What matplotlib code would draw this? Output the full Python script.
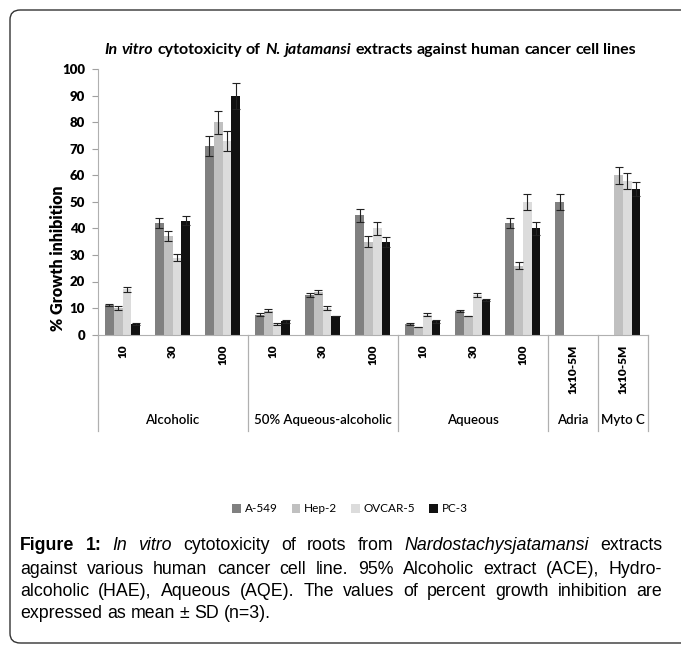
import numpy as np
import matplotlib as mpl
mpl.use("Agg")
import matplotlib.pyplot as plt
from matplotlib.patches import FancyBboxPatch
from matplotlib.transforms import blended_transform_factory

W, H = 681, 646

cell_lines = ["A-549", "Hep-2", "OVCAR-5", "PC-3"]
colors = ["#808080", "#c0c0c0", "#dcdcdc", "#111111"]
doses = ["10", "30", "100", "10", "30", "100", "10", "30", "100", "1x10-5M", "1x10-5M"]
groups = ["Alcoholic", "50% Aqueous-alcoholic", "Aqueous", "Adria", "Myto C"]
group_sizes = [3, 3, 3, 1, 1]

nan = np.nan
a549 = [11, 42, 71, 7.5, 15, 45, 4, 9, 42, 50, nan]
hep2 = [10, 37, 80, 9, 16, 35, 3, 7, 26, nan, 60]
ovcar5 = [17, 29, 73, 4, 10, 40, 7.5, 15, 50, nan, 58]
pc3 = [4, 43, 90, 5, 7, 35, 5, 13, 40, nan, 55]

a549_sd = [0.4, 1.8, 3.8, 0.5, 0.8, 2.4, 0.3, 0.4, 1.8, 2.9, nan]
hep2_sd = [0.6, 1.9, 4.3, 0.6, 0.8, 2.0, 0.0, 0.0, 1.2, nan, 3.1]
ovcar5_sd = [1.0, 1.2, 3.8, 0.4, 0.8, 2.3, 0.5, 0.7, 2.9, nan, 3.1]
pc3_sd = [0.3, 1.8, 4.8, 0.5, 0.0, 1.9, 0.5, 0.5, 2.4, nan, 2.6]

series = [a549, hep2, ovcar5, pc3]
errors = [a549_sd, hep2_sd, ovcar5_sd, pc3_sd]

title_font = "Lato"
cap_font = "Liberation Sans"

fig = plt.figure(figsize=(W / 100, H / 100), dpi=100)

# rounded frame around the whole figure (right edge runs off the image)
frame = FancyBboxPatch((10 / W, 1 - 643 / H), 700 / W, 633 / H,
                       boxstyle="round,pad=0,rounding_size=0.015",
                       transform=fig.transFigure, fill=False,
                       edgecolor="#333333", linewidth=1.0)
fig.patches.append(frame)

ax_l, ax_r, ax_t, ax_b = 97.5, 648, 69.5, 334.5
ax = fig.add_axes([ax_l / W, 1 - ax_b / H, (ax_r - ax_l) / W, (ax_b - ax_t) / H])

n = len(doses)
x = np.arange(n)
w = 0.175
for k, (vals, sds) in enumerate(zip(series, errors)):
    vals = np.array(vals, dtype=float)
    sds = np.array(sds, dtype=float)
    pos = x + (k - 1.5) * w
    m = ~np.isnan(vals)
    ax.bar(pos[m], vals[m], width=w, color=colors[k], label=cell_lines[k],
           edgecolor="none")
    ax.errorbar(pos[m], vals[m], yerr=sds[m], fmt="none", ecolor="#222222",
                elinewidth=0.8, capsize=3, capthick=0.8)

ax.set_xlim(-0.5, n - 0.5)
ax.set_ylim(0, 100)
ax.set_yticks(range(0, 101, 10))
ax.set_yticklabels([str(v) for v in range(0, 101, 10)], fontfamily=title_font,
                   fontweight="heavy", fontsize=9.5)
ax.tick_params(axis="y", length=4, color="#a0a0a0", pad=5)
ax.set_xticks([])
for s in ["top", "right"]:
    ax.spines[s].set_visible(False)
ax.spines["left"].set_color("#b0b0b0")
ax.spines["bottom"].set_color("#b0b0b0")

# category labels below the axis
px = 1.0 / (ax_b - ax_t)
tr = blended_transform_factory(ax.transData, ax.transAxes)
for i, d in enumerate(doses):
    ax.text(i, -10 * px, d, transform=tr, rotation=90, ha="center", va="top",
            fontfamily=title_font, fontweight="heavy", fontsize=8.5)

bounds = np.concatenate([[0], np.cumsum(group_sizes)]) - 0.5
for b in bounds:
    ax.plot([b, b], [0, -96 * px], transform=tr, color="#b0b0b0",
            linewidth=0.9, clip_on=False)
for g, lo, hi in zip(groups, bounds[:-1], bounds[1:]):
    ax.text((lo + hi) / 2, -86 * px, g, transform=tr, ha="center",
            va="center", fontfamily=title_font, fontsize=9.5,
            fontweight="semibold")

fig.text(58 / W, 1 - 258 / H, "% Growth inhibition", rotation=90,
         ha="center", va="center", fontfamily=title_font, fontweight="heavy",
         fontsize=11.5)

fig.legend(loc="center", bbox_to_anchor=(350 / W, 1 - 509 / H), ncol=4,
           frameon=False, handlelength=0.75, handleheight=0.75,
           handletextpad=0.3, columnspacing=1.2,
           prop={"family": title_font, "size": 8.5})

fig.canvas.draw()
renderer = fig.canvas.get_renderer()


def measure(t):
    bb = t.get_window_extent(renderer)
    return bb.width


def draw_pieces(pieces, x0, y, family, size, x1=None, center=None):
    # pieces: list of (text, weight, style); laid out word by word
    objs = []
    for txt, wt, st in pieces:
        t = fig.text(0, 1 - y / H, txt, fontfamily=family, fontsize=size,
                     fontweight=wt, fontstyle=st, ha="left", va="center")
        objs.append(t)
    widths = [measure(t) for t in objs]
    space = measure(fig.text(0, 0, "a a", fontfamily=family, fontsize=size)) - \
        measure(fig.text(0, 0, "aa", fontfamily=family, fontsize=size))
    fig.texts[-2:] = []
    if x1 is not None:
        gap = (x1 - x0 - sum(widths)) / max(len(objs) - 1, 1)
    else:
        gap = space
    if center is not None:
        total = sum(widths) + gap * (len(objs) - 1)
        x0 = center - total / 2
    cur = x0
    for t, wd in zip(objs, widths):
        t.set_x(cur / W)
        cur += wd + gap


def words(s, wt="normal", st="normal"):
    return [(p, wt, st) for p in s.split()]


title = (words("In vitro", "bold", "italic") + words("cytotoxicity of", "bold")
         + words("N. jatamansi", "bold", "italic")
         + words("extracts against human cancer cell lines", "bold"))
draw_pieces(title, 0, 50, title_font, 11.5, center=370)

cap_lines = [
    words("Figure 1:", "bold") + words("In vitro", st="italic")
    + words("cytotoxicity of roots from") + words("Nardostachysjatamansi", st="italic")
    + words("extracts"),
    words("against various human cancer cell line. 95% Alcoholic extract (ACE), Hydro-"),
    words("alcoholic (HAE), Aqueous (AQE). The values of percent growth inhibition are"),
    words("expressed as mean ± SD (n=3)."),
]
cap_y = [546, 569, 591, 613]
for i, (ln, yy) in enumerate(zip(cap_lines, cap_y)):
    if i < len(cap_lines) - 1:
        draw_pieces(ln, 20, yy, cap_font, 12.8, x1=662)
    else:
        draw_pieces(ln, 20, yy, cap_font, 12.8)

fig.savefig("out.png", dpi=100)
